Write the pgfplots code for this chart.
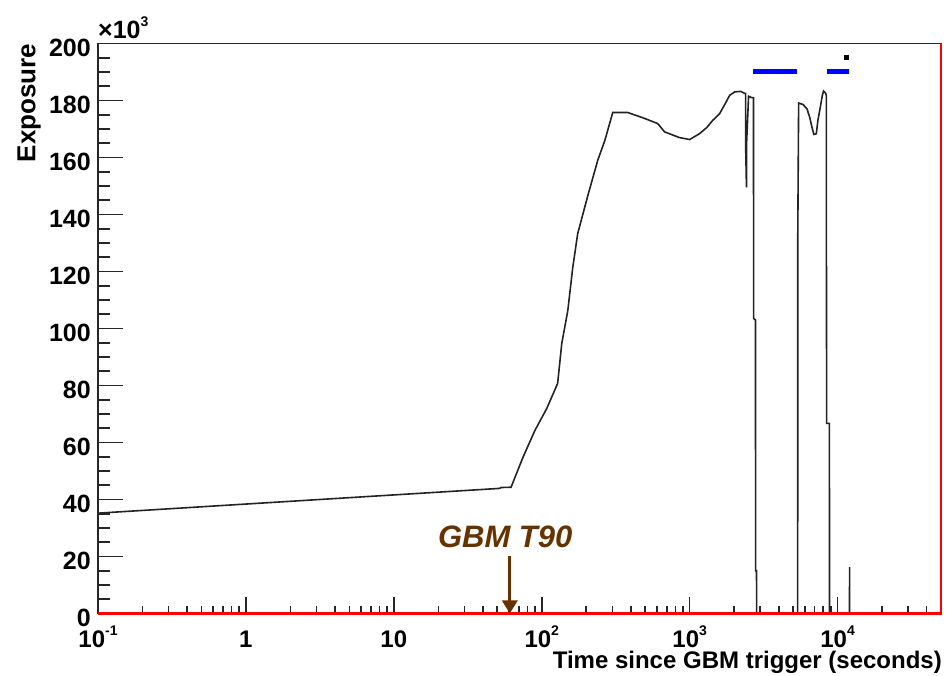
\documentclass[border=0pt]{standalone}
\usepackage{pgfplots}
\pgfplotsset{compat=1.18}
\usepackage{fontspec}
\setmainfont{Liberation Sans}
\usetikzlibrary{calc,arrows.meta}
\definecolor{gbm}{RGB}{102,51,0}
\definecolor{curvec}{RGB}{35,35,35}
\newcommand{\sups}[1]{\raisebox{12pt}{\fontsize{14}{14}\selectfont #1}}
\begin{document}
\begin{tikzpicture}
\begin{axis}[
  name=main,
  scale only axis, width=843pt, height=570pt,
  xmode=log, xmin=0.1, xmax=50000, ymin=0, ymax=200,
  axis line style={black!85, line width=1.8pt},
  tick align=inside, tick pos=left,
  xtick={0.1,1,10,100,1000,10000},
  xticklabels={10\sups{-1},1,10,10\sups{2},10\sups{3},10\sups{4}},
  minor xtick={0.2,0.3,0.4,0.5,0.6,0.7,0.8,0.9,2,3,4,5,6,7,8,9,20,30,40,50,60,70,80,90,200,300,400,500,600,700,800,900,2000,3000,4000,5000,6000,7000,8000,9000,20000,30000,40000},
  ytick={0,20,40,60,80,100,120,140,160,180,200},
  yticklabels={0,20,40,60,80,100,120,140,160,180,200},
  major tick length=16pt, minor tick length=7.5pt,
  x tick style={black!85, line width=1.6pt},
  y tick style={draw=none},
  xticklabel style={font=\fontsize{24}{24}\selectfont\bfseries, anchor=base, inner sep=0pt, yshift=-34.5pt},
  yticklabel style={font=\fontsize{25}{25}\selectfont\bfseries, anchor=east, inner sep=0pt, xshift=-7pt, yshift=-4pt},
  clip=false,
]
\pgfplotsinvokeforeach{20,40,60,80,100,120,140,160,180}{
  \draw[black!85, line width=1.8pt] (axis cs:0.1,#1) -- ++(25pt,0pt);
}
\pgfplotsinvokeforeach{5,10,15,25,30,35,45,50,55,65,70,75,85,90,95,105,110,115,125,130,135,145,150,155,165,170,175,185,190,195}{
  \draw[black!85, line width=1.8pt] (axis cs:0.1,#1) -- ++(12pt,0pt);
}
\addplot[curvec, line width=1.6pt] coordinates {
(0.1,35.2) (52,43.9) (53,44.2) (62,44.3) (74.5,54.7) (89.8,64.2) (108,71.9)
(128,80.7) (136.5,94.7) (150,106.3) (162,121.4) (175,133.3) (205,146.7)
(239,159) (267,166) (302,175.8) (380,175.8) (479,174) (608,171.9) (676,169)
(851,167) (1000,166.3) (1169,168.4) (1304,170.5) (1430,173) (1595,175.4)
(1722,178.5) (1862,181.8) (2013,183) (2211,183.2) (2354,182.5) (2390,182.5)
(2392,163) (2420,149.5) (2425,165) (2500,181.5) (2624,181) (2700,181)
(2705,103.5) (2785,103) (2790,15) (2830,15) (2836,0) (5370,0) (5380,133)
(5452,179.1) (5829,178.6) (6204,177.1) (6470,174.2) (6746,170.1) (6917,168.1)
(7178,168.3) (7358,173) (7638,177.6) (7883,181.8) (8035,183.3) (8298,182.6)
(8387,181.8) (8395,144.3) (8430,66.7) (8800,66.7) (8820,0) (12030,0)
(12050,16.3) (12070,0) (50000,0)
};
\addplot[blue, line width=4.8pt] coordinates {(2677,190.2) (5302,190.2)};
\addplot[blue, line width=4.8pt] coordinates {(8467,190.2) (11866,190.2)};
\addplot[only marks, mark=square*, mark size=2.3pt, black] coordinates {(11452,195.2)};
\draw[red, line width=2.2pt] (rel axis cs:0,0) -- (rel axis cs:1,0) -- (rel axis cs:1,1);
\draw[gbm, line width=3.3pt, -{Triangle[length=13pt,width=15pt]}] (axis cs:60.8,20.2) -- (axis cs:60.8,0);
\node[gbm, anchor=base, inner sep=0pt, font=\fontsize{31}{31}\selectfont\bfseries\itshape] at (axis cs:56.6,23) {GBM T90};
\end{axis}
\node[anchor=base east, inner sep=0pt, font=\fontsize{24}{24}\selectfont\bfseries] at ($(main.south east)+(1pt,-55pt)$) {Time since GBM trigger (seconds)};
\node[anchor=base east, rotate=90, inner sep=0pt, font=\fontsize{26}{26}\selectfont\bfseries] at ($(main.north west)+(-62.5pt,0pt)$) {Exposure};
\node[anchor=base west, inner sep=0pt, font=\fontsize{25}{25}\selectfont\bfseries] at ($(main.north west)+(0pt,5pt)$) {×10\sups{3}};
\pgfresetboundingbox
\path[use as bounding box] ($(main.south west)+(-98pt,-62.5pt)$) rectangle ++(947pt,676pt);
\end{tikzpicture}
\end{document}
